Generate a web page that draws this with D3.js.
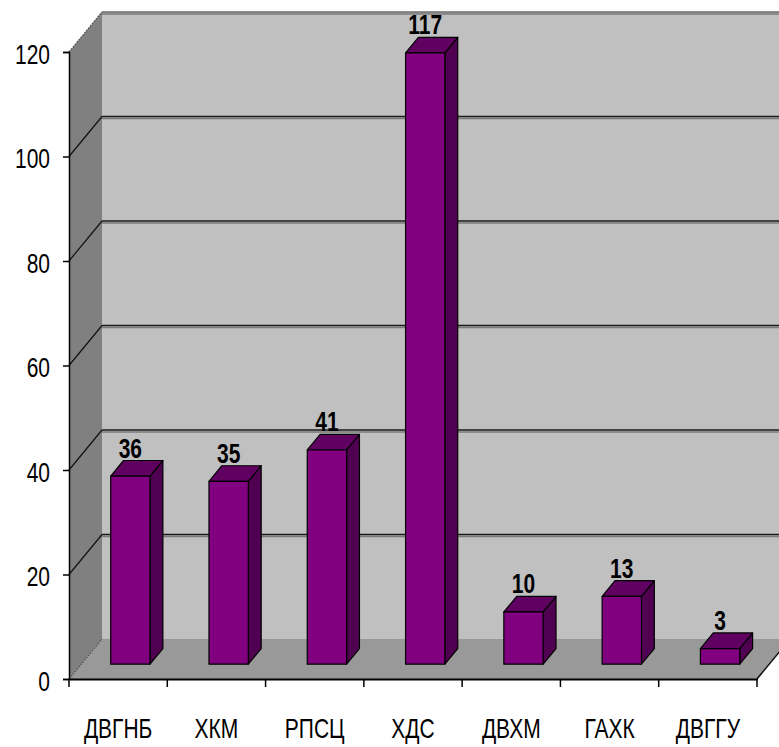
<!DOCTYPE html>
<html>
<head>
<meta charset="utf-8">
<script src="https://cdn.jsdelivr.net/npm/d3@7"></script>
<style>
  html, body { margin: 0; padding: 0; background: #fff; }
  text { font-family: "Liberation Sans", Arial, sans-serif; }
</style>
</head>
<body>
<div id="chart"></div>
<script>
"use strict";

// === DATA ===
const categories = ["ДВГНБ", "ХКМ", "РПСЦ", "ХДС", "ДВХМ", "ГАХК", "ДВГГУ"];
const values = [36, 35, 41, 117, 10, 13, 3];
const yTicks = [0, 20, 40, 60, 80, 100, 120];

// === SVG SETUP ===
const width = 779, height = 747;
const front = { left: 69, right: 757, top: 52, bottom: 679 };
const depth = { dx: 33, dy: -40 };          // offset of the back wall
const barDepth = { from: 0.37, to: 0.76 };   // bar position within the depth
const narrow = 0.75;                         // squeeze text like a narrow face

const svg = d3.select("#chart")
  .append("svg")
  .attr("width", width)
  .attr("height", height);

svg.append("rect").attr("width", width).attr("height", height).attr("fill", "#fff");

// === SCALES ===
const x = d3.scaleBand()
  .domain(categories)
  .range([front.left, front.right])
  .paddingInner(0)
  .paddingOuter(0);

const y = d3.scaleLinear()
  .domain([0, 120])
  .range([front.bottom, front.top]);

const barW = x.bandwidth() * 0.4;

// shift a front-plane point back by fraction t of the depth
const off = (px, py, t) => [px + depth.dx * t, py + depth.dy * t];
const poly = pts => pts.map(p => p.join(",")).join(" ");

// === WALLS ===
const x0 = front.left, x1 = front.right, yTop = y(120), yBot = y(0);

// back wall
svg.append("polygon")
  .attr("points", poly([off(x0, yTop, 1), off(x1 + 60, yTop, 1), off(x1 + 60, yBot, 1), off(x0, yBot, 1)]))
  .attr("fill", "#c0c0c0");

// left wall
svg.append("polygon")
  .attr("points", poly([[x0, yTop], off(x0, yTop, 1), off(x0, yBot, 1), [x0, yBot]]))
  .attr("fill", "#808080");

// floor
svg.append("polygon")
  .attr("points", poly([[x0, yBot], [x1, yBot], off(x1, yBot, 1), off(x0, yBot, 1)]))
  .attr("fill", "#999999");

// === GRIDLINES ===
yTicks.filter(d => d > 0).forEach(d => {
  const [bx, by] = off(x0, y(d), 1);
  svg.append("line")
    .attr("x1", bx).attr("y1", by + 2)
    .attr("x2", width).attr("y2", by + 2)
    .attr("stroke", "#7a7a7a").attr("stroke-width", 1.5);
  svg.append("line")
    .attr("x1", bx).attr("y1", by)
    .attr("x2", width).attr("y2", by)
    .attr("stroke", d === 120 ? "#6a6a6a" : "#1a1a1a").attr("stroke-width", 1.5);
  svg.append("line")
    .attr("x1", x0).attr("y1", y(d))
    .attr("x2", bx).attr("y2", by)
    .attr("stroke", d === 120 ? "#555" : "#111").attr("stroke-width", 1.2)
    .attr("stroke-dasharray", d === 120 ? "2 1" : null);
});

// floor edges
svg.append("line")
  .attr("x1", x0).attr("y1", yBot)
  .attr("x2", off(x0, yBot, 1)[0]).attr("y2", off(x0, yBot, 1)[1])
  .attr("stroke", "#555").attr("stroke-width", 1.2).attr("stroke-dasharray", "2 1");

svg.append("line")
  .attr("x1", x1).attr("y1", yBot)
  .attr("x2", off(x1, yBot, 1)[0]).attr("y2", off(x1, yBot, 1)[1])
  .attr("stroke", "#111").attr("stroke-width", 1.5);

// === AXES ===
const yAxis = d3.axisLeft(y).tickValues(yTicks).tickSize(6);
const gy = svg.append("g")
  .attr("transform", `translate(${x0},0)`)
  .call(yAxis);
gy.select(".domain").attr("stroke", "#000").attr("stroke-width", 1.5);
gy.selectAll(".tick line").attr("stroke", "#000").attr("stroke-width", 1.5);
gy.selectAll(".tick text")
  .attr("x", null).attr("dy", null)
  .attr("transform", `translate(-19,11) scale(${narrow},1)`)
  .attr("text-anchor", "end")
  .attr("font-size", 28)
  .attr("font-family", null)
  .attr("fill", "#000");

const xAxis = d3.axisBottom(x).tickSize(0).tickSizeOuter(0);
const gx = svg.append("g")
  .attr("transform", `translate(0,${yBot})`)
  .call(xAxis);
gx.select(".domain").attr("stroke", "#000").attr("stroke-width", 2);
gx.selectAll(".tick text")
  .attr("y", null).attr("dy", null)
  .attr("transform", `translate(0,59) scale(${narrow},1)`)
  .attr("font-size", 28)
  .attr("font-family", null)
  .attr("fill", "#000");

// category boundary ticks
const bounds = categories.map(c => x(c)).concat([x1]);
svg.selectAll("line.xt")
  .data(bounds)
  .enter().append("line")
  .attr("class", "xt")
  .attr("x1", d => d).attr("x2", d => d)
  .attr("y1", yBot).attr("y2", yBot + 8)
  .attr("stroke", "#000").attr("stroke-width", 1.5);

// === BARS ===
const bars = svg.selectAll("g.bar")
  .data(categories.map((c, i) => ({ cat: c, value: values[i] })))
  .enter().append("g")
  .attr("class", "bar");

function corners(d) {
  const l = x(d.cat) + (x.bandwidth() - barW) / 2, r = l + barW;
  const t = y(d.value), b = y(0);
  const f = barDepth.from, k = barDepth.to;
  return {
    fl: off(l, t, f), fr: off(r, t, f), fbl: off(l, b, f), fbr: off(r, b, f),
    bl: off(l, t, k), br: off(r, t, k), bbr: off(r, b, k)
  };
}

// side face
bars.append("polygon")
  .attr("points", d => { const c = corners(d); return poly([c.fr, c.br, c.bbr, c.fbr]); })
  .attr("fill", "#500050").attr("stroke", "#000").attr("stroke-width", 1.2)
  .attr("stroke-linejoin", "round");

// top face
bars.append("polygon")
  .attr("points", d => { const c = corners(d); return poly([c.fl, c.fr, c.br, c.bl]); })
  .attr("fill", "#600060").attr("stroke", "#000").attr("stroke-width", 1.2)
  .attr("stroke-linejoin", "round");

// front face
bars.append("polygon")
  .attr("points", d => { const c = corners(d); return poly([c.fl, c.fr, c.fbr, c.fbl]); })
  .attr("fill", "#800080").attr("stroke", "#000").attr("stroke-width", 1.2)
  .attr("stroke-linejoin", "round");

// value labels
bars.append("text")
  .attr("transform", d => {
    const c = corners(d);
    return `translate(${(c.fl[0] + c.fr[0]) / 2},${c.bl[1] - 3}) scale(${narrow},1)`;
  })
  .attr("text-anchor", "middle")
  .attr("font-size", 28)
  .attr("font-weight", "bold")
  .attr("fill", "#000")
  .text(d => d.value);
</script>
</body>
</html>
